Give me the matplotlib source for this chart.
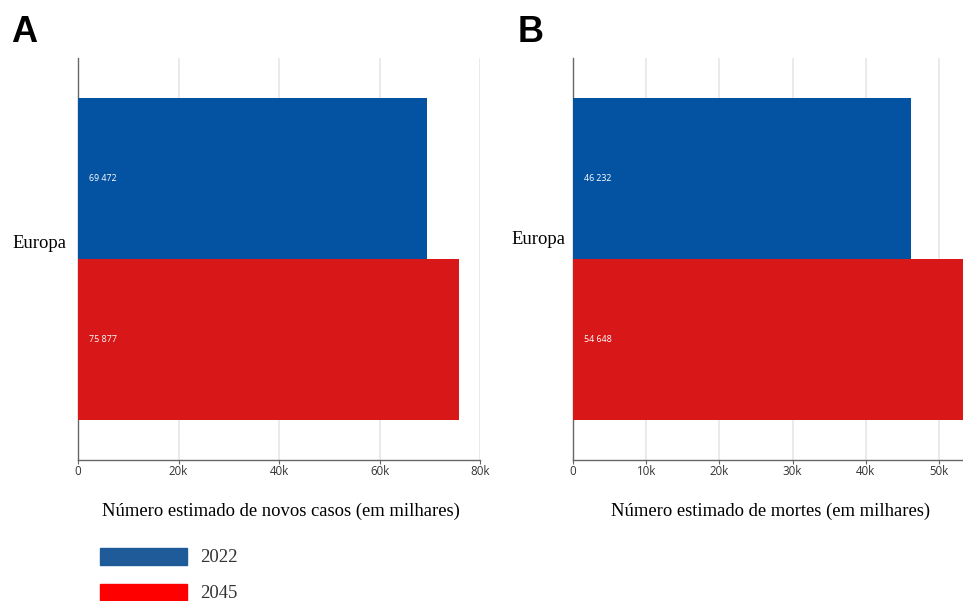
import matplotlib
matplotlib.use("Agg")
import matplotlib.pyplot as plt
from matplotlib.patches import Rectangle

years = ["2022", "2045"]
region = "Europa"
cases = [69472, 75877]
deaths = [46232, 54648]
bar_colors = ["#0453a3", "#d71718"]
legend_colors = ["#1f5b99", "#ff0000"]
xlabels = ["Número estimado de novos casos (em milhares)",
           "Número estimado de mortes (em milhares)"]
ticksA = [0, 20000, 40000, 60000, 80000]
ticksB = [0, 10000, 20000, 30000, 40000, 50000]
tick_labels_A = ["0", "20k", "40k", "60k", "80k"]
tick_labels_B = ["0", "10k", "20k", "30k", "40k", "50k"]

W, H = 963, 601
fig = plt.figure(figsize=(W / 100, H / 100), dpi=100)

def ax_rect(l, r, t, b):
    return [l / W, 1 - b / H, (r - l) / W, (b - t) / H]

serif = ["Liberation Serif", "DejaVu Serif"]
SFS = 13.4

def panel(rect, vals, ticks, tlabels, xmax, xlabel, letter, letter_x, europa_x, europa_y, xlabel_x):
    ax = fig.add_axes(ax_rect(*rect))
    ypos = list(range(len(vals)))
    ax.barh(ypos, vals, height=1.0, color=bar_colors, zorder=3)
    ax.set_ylim(1.75, -0.75)
    ax.set_xlim(0, xmax)
    ax.set_xticks(ticks)
    ax.set_xticklabels(tlabels, fontsize=8.3, color="#333333", family="Open Sans")
    ax.set_yticks([])
    ax.grid(axis="x", color="#e6e6e6", linewidth=1.2, zorder=0)
    for s in ["top", "right"]:
        ax.spines[s].set_visible(False)
    for s in ["left", "bottom"]:
        ax.spines[s].set_color("#666666")
        ax.spines[s].set_linewidth(1.0)
    ax.tick_params(axis="x", length=3, color="#666666", pad=0.5)
    for y, v in zip(ypos, vals):
        ax.annotate(f"{v:,}".replace(",", " "), xy=(0, y), xytext=(8, 0),
                    textcoords="offset points", color="white", fontsize=6.4,
                    va="center", ha="left", family="Open Sans", zorder=4)
    fig.text(europa_x / W, 1 - europa_y / H, region, family=serif, fontsize=SFS,
             ha="left", va="center")
    fig.text(xlabel_x / W, 1 - 511 / H, xlabel, family=serif, fontsize=SFS,
             ha="center", va="center")
    fig.text(letter_x / W, 1 - 32 / H, letter, fontsize=26, fontweight="bold",
             family="Liberation Sans", ha="left", va="center")
    return ax

panel((78, 480, 58, 460), cases, ticksA, tick_labels_A, 80000, xlabels[0], "A", 11, 12, 243, 281)
panel((573, 963, 58, 460), deaths, ticksB, tick_labels_B, 53280, xlabels[1], "B", 518, 511, 240, 771)

# legend
for i, (yr, c) in enumerate(zip(years, legend_colors)):
    top = 548 + i * 36
    fig.patches.append(Rectangle((100 / W, 1 - (top + 17) / H), 87 / W, 17 / H,
                                 transform=fig.transFigure, color=c))
    fig.text(200 / W, 1 - (top + 9) / H, yr, family=serif, fontsize=SFS,
             ha="left", va="center", color="#333333")

fig.savefig("out.png", dpi=100)
